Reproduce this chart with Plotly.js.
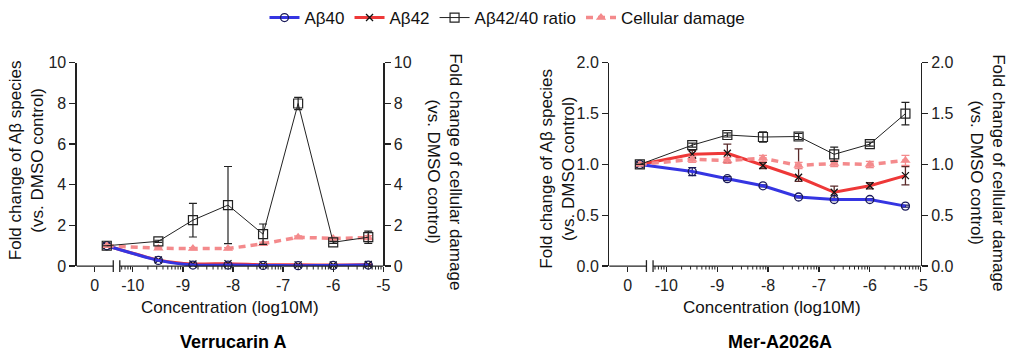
<!DOCTYPE html>
<html><head><meta charset="utf-8">
<script src="https://cdn.plot.ly/plotly-3.0.1.min.js"></script>
<style>html,body{margin:0;padding:0;background:#fff}</style>
</head><body><div id="chart" style="width:1024px;height:363px"></div>
<script>
// x positions: log10(M); the DMSO control sits on a short stub left of the axis break (labelled "0")
const xTickVals = [-10.76, -10, -9, -8, -7, -6, -5];
const xTickLabels = ["0", "-10", "-9", "-8", "-7", "-6", "-5"];
const controlX = -10.52;
const concLog = [-9.49, -8.80, -8.10, -7.40, -6.70, -6.00, -5.30];

// Verrucarin A
const verA_ab40 = [1.00, 0.28, 0.05, 0.05, 0.03, 0.02, 0.03, 0.05];
const verA_ab40Err = [0, 0.02, 0.01, 0.01, 0.01, 0.01, 0.01, 0.01];
const verA_ab42 = [1.00, 0.30, 0.10, 0.12, 0.07, 0.06, 0.05, 0.08];
const verA_ab42Err = [0, 0.02, 0.02, 0.02, 0.01, 0.01, 0.01, 0.02];
const verA_ratio = [1.00, 1.22, 2.26, 3.00, 1.57, 8.00, 1.17, 1.42];
const verA_ratioErr = [0, 0.05, 0.83, 1.90, 0.50, 0.30, 0.05, 0.30];
const verA_damage = [1.00, 0.88, 0.86, 0.86, 1.10, 1.42, 1.36, 1.40];
const verA_damageErr = [0, 0.05, 0.05, 0.05, 0.08, 0.06, 0.05, 0.10];

// Mer-A2026A
const mer_ab40 = [1.00, 0.93, 0.86, 0.79, 0.68, 0.655, 0.655, 0.59];
const mer_ab40Err = [0, 0.04, 0.02, 0.01, 0.01, 0.01, 0.01, 0.01];
const mer_ab42 = [1.00, 1.10, 1.11, 0.99, 0.874, 0.726, 0.79, 0.89];
const mer_ab42ErrUp = [0, 0.04, 0.09, 0.03, 0.28, 0.06, 0.03, 0.09];
const mer_ab42ErrDn = [0, 0.04, 0.09, 0.03, 0.04, 0.06, 0.03, 0.09];
const mer_ratio = [1.00, 1.19, 1.29, 1.27, 1.275, 1.10, 1.20, 1.50];
const mer_ratioErr = [0, 0.02, 0.02, 0.05, 0.03, 0.07, 0.02, 0.11];
const mer_damage = [1.00, 1.05, 1.04, 1.06, 0.99, 1.01, 1.00, 1.04];
const mer_damageErr = [0, 0.03, 0.03, 0.03, 0.03, 0.03, 0.03, 0.05];

const seriesNames = ["Aβ40", "Aβ42", "Aβ42/40 ratio", "Cellular damage"];
const panelTitles = ["Verrucarin A", "Mer-A2026A"];
const xTitle = "Concentration (log10M)";
const yTitleL = "Fold change of Aβ species<br>(vs. DMSO control)";
const yTitleR = "Fold change of cellular damage<br>(vs. DMSO control)";

const FONT = 'Arial, "Liberation Sans", sans-serif';
const W = 1024, H = 363;
const XR = [-11.12, -5];
const dom1 = [76.7 / W, 383.3 / W];
const dom2 = [609.3 / W, 920.7 / W];
const ydom = [1 - 265 / H, 1 - 59.5 / H];
const BLUE = '#3535e2', RED = '#ee3838', PINK = '#f48a8c', INK = '#222';
const xs = [controlX].concat(concLog);

// minor log ticks on the concentration segment of the axis
const minorVals = [];
for (let n = -11; n <= -6; n++) for (let k = 2; k <= 9; k++) {
  const v = n + Math.log10(k);
  if (v > -10.26 && v < -5) minorVals.push(v);
}

function traces(xa, ya, yb, d, showleg) {
  return [
    {x: xs, y: d.ab42, xaxis: xa, yaxis: ya, name: seriesNames[1], legendrank: 2, showlegend: showleg,
     mode: 'lines+markers', cliponaxis: false,
     line: {color: RED, width: 3, shape: d.spline ? 'spline' : 'linear', smoothing: 0.6},
     marker: {symbol: 'x-thin-open', size: 7, color: '#111', line: {width: 1.3, color: '#111'}},
     error_y: {type: 'data', array: d.ab42Up, arrayminus: d.ab42Dn, symmetric: false, color: d.ab42ErrColor, thickness: 1.3, width: 4}},
    {x: xs, y: d.ab40, xaxis: xa, yaxis: ya, name: seriesNames[0], legendrank: 1, showlegend: showleg,
     mode: 'lines+markers', cliponaxis: false,
     line: {color: BLUE, width: 3, shape: d.spline ? 'spline' : 'linear', smoothing: 0.6},
     marker: {symbol: 'circle-open', size: 8, color: '#1a1a5a', line: {width: 1.3}},
     error_y: {type: 'data', array: d.ab40Err, color: '#1a1a5a', thickness: 1.2, width: 4}},
    {x: xs, y: d.damage, xaxis: xa, yaxis: yb, name: seriesNames[3], legendrank: 4, showlegend: showleg,
     mode: 'lines+markers', cliponaxis: false,
     line: {color: PINK, width: 3.5, dash: '7px,5px'},
     marker: {symbol: 'triangle-up', size: 9, color: PINK},
     error_y: {type: 'data', array: d.damageErr, color: PINK, thickness: 1.3, width: 4}},
    {x: xs, y: d.ratio, xaxis: xa, yaxis: yb, name: seriesNames[2], legendrank: 3, showlegend: showleg,
     mode: 'lines+markers', cliponaxis: false,
     line: {color: INK, width: 1},
     marker: {symbol: 'square-open', size: 9, color: INK, line: {width: 1.2}},
     error_y: {type: 'data', array: d.ratioErr, color: INK, thickness: 1.2, width: 4}}
  ];
}

const data = [].concat(
  traces('x', 'y', 'y2', {ab40: verA_ab40, ab40Err: verA_ab40Err, ab42: verA_ab42, ab42Up: verA_ab42Err, ab42Dn: verA_ab42Err,
    ab42ErrColor: RED, ratio: verA_ratio, ratioErr: verA_ratioErr, damage: verA_damage, damageErr: verA_damageErr, spline: true}, true),
  traces('x2', 'y3', 'y4', {ab40: mer_ab40, ab40Err: mer_ab40Err, ab42: mer_ab42, ab42Up: mer_ab42ErrUp, ab42Dn: mer_ab42ErrDn,
    ab42ErrColor: '#5a2a2a', ratio: mer_ratio, ratioErr: mer_ratioErr, damage: mer_damage, damageErr: mer_damageErr, spline: false}, false)
);

const tickfont = {family: FONT, size: 16, color: INK};
function xaxis(dom, anchor) {
  return {domain: dom, range: XR, anchor: anchor, showline: false, showgrid: false, zeroline: false,
    tickmode: 'array', tickvals: xTickVals, ticktext: xTickLabels, ticks: 'outside', ticklen: 5,
    tickwidth: 1.3, tickcolor: INK, tickfont: tickfont};
}
function yaxis(range, dtick, fmt, anchor, side, overlay) {
  const a = {domain: ydom, range: range, dtick: dtick, tick0: 0, tickformat: fmt, anchor: anchor, side: side,
    showline: true, linecolor: INK, linewidth: 1.3, ticks: 'outside', ticklen: 6, tickwidth: 1.3, tickcolor: INK,
    showgrid: false, zeroline: false, tickfont: tickfont};
  if (overlay) a.overlaying = overlay;
  return a;
}

function px(dom, v) { return dom[0] + (v - XR[0]) / (XR[1] - XR[0]) * (dom[1] - dom[0]); }
const shapes = [];
[dom1, dom2].forEach(dom => {
  const a = px(dom, -10.39), b = px(dom, -10.26);
  const ln = {type: 'line', xref: 'paper', yref: 'paper', line: {color: INK, width: 1.3}};
  shapes.push(Object.assign({}, ln, {x0: dom[0], x1: a, y0: ydom[0], y1: ydom[0]}));
  shapes.push(Object.assign({}, ln, {x0: b, x1: dom[1], y0: ydom[0], y1: ydom[0]}));
  shapes.push(Object.assign({}, ln, {x0: a, x1: a, y0: ydom[0] - 6 / H, y1: ydom[0] + 6 / H}));
  shapes.push(Object.assign({}, ln, {x0: b, x1: b, y0: ydom[0] - 6 / H, y1: ydom[0] + 6 / H}));
  minorVals.forEach(v => {
    const p = px(dom, v);
    shapes.push({type: 'line', xref: 'paper', yref: 'paper', x0: p, x1: p, y0: ydom[0], y1: ydom[0] - 3.5 / H,
      line: {color: INK, width: 1}});
  });
});

function ann(text, xpx, ypx, opts) {
  return Object.assign({text: text, x: xpx / W, y: 1 - ypx / H, xref: 'paper', yref: 'paper', showarrow: false,
    xanchor: 'center', yanchor: 'middle', font: {family: FONT, size: 17, color: '#111'}}, opts || {});
}
const annotations = [
  ann(yTitleL, 26, 158, {textangle: -90}),
  ann(yTitleR, 445, 169, {textangle: 90}),
  ann(yTitleL, 557.5, 167, {textangle: -90}),
  ann(yTitleR, 988, 170, {textangle: 90}),
  ann(xTitle, 230, 306.5),
  ann(xTitle, 771.5, 306.5),
  ann('<b>' + panelTitles[0] + '</b>', 233, 341.5, {font: {family: FONT, size: 18, color: '#000'}}),
  ann('<b>' + panelTitles[1] + '</b>', 780, 341.5, {font: {family: FONT, size: 18, color: '#000'}})
];

const layout = {
  width: W, height: H, margin: {l: 0, r: 0, t: 0, b: 0},
  paper_bgcolor: '#fff', plot_bgcolor: 'rgba(0,0,0,0)',
  font: {family: FONT, color: INK},
  xaxis: xaxis(dom1, 'y'),
  yaxis: yaxis([0, 10], 2, '', 'x', 'left'),
  yaxis2: yaxis([0, 10], 2, '', 'x', 'right', 'y'),
  xaxis2: xaxis(dom2, 'y3'),
  yaxis3: yaxis([0, 2], 0.5, '.1f', 'x2', 'left'),
  yaxis4: yaxis([0, 2], 0.5, '.1f', 'x2', 'right', 'y3'),
  showlegend: true,
  legend: {orientation: 'h', x: 0.4956, xanchor: 'center', y: 1 - 14 / H, yanchor: 'middle',
    font: {family: FONT, size: 17, color: '#111'}, itemwidth: 30, bgcolor: 'rgba(0,0,0,0)', traceorder: 'normal'},
  shapes: shapes, annotations: annotations
};

Plotly.newPlot('chart', data, layout, {displayModeBar: false, staticPlot: true});
</script></body></html>
